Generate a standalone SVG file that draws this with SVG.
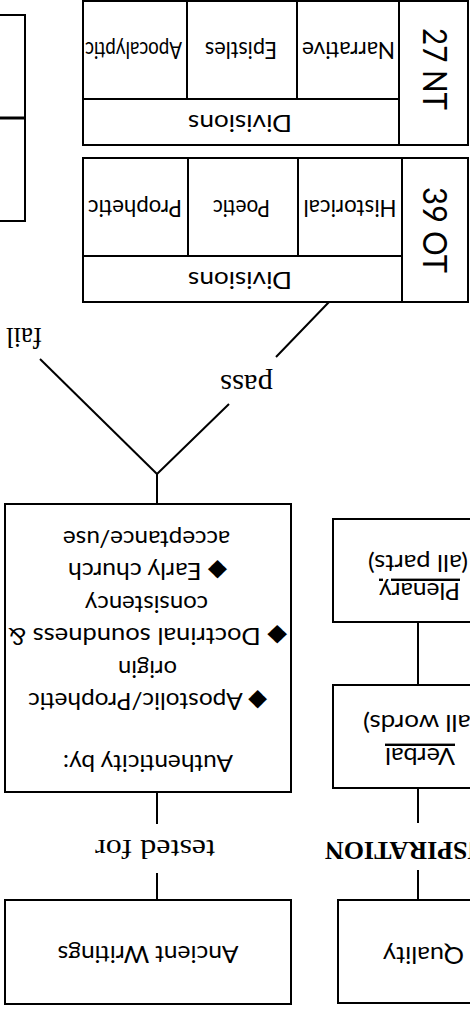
<svg xmlns="http://www.w3.org/2000/svg" width="470" height="1009" viewBox="0 0 470 1009">
<style>
.box{fill:#fff;stroke:#000;stroke-width:2}
.ln{stroke:#000;stroke-width:2;fill:none}
.t,.c,.n{font-family:'Lato','Liberation Sans','DejaVu Sans',sans-serif;fill:#000;text-anchor:middle}
.t{font-size:24px}
.c{font-size:23px}
.n{font-size:33px}
.s{font-family:'Liberation Serif',serif;fill:#000;text-anchor:middle}
.u{text-decoration:underline}
</style>
<rect width="470" height="1009" fill="#fff"/>
<g transform="rotate(180 235 504.5)">
  <g id="connectors">
    <path class="ln" d="M313,109V136M313,185V217"/>
    <text class="s" x="315" y="169" font-size="27" textLength="120" lengthAdjust="spacingAndGlyphs">tested for</text>
    <path class="ln" d="M313,505V535"/>
    <path class="ln" d="M313,535L241,605M194,652L141,707"/>
    <text class="s" x="223.5" y="634" font-size="30" textLength="53" lengthAdjust="spacingAndGlyphs">pass</text>
    <path class="ln" d="M313,535L430,650"/>
    <text class="s" x="446" y="681" font-size="30" textLength="36" lengthAdjust="spacingAndGlyphs">fail</text>
    <path class="ln" d="M52,109V139M52,186V221"/>
    <text class="s" x="145" y="167" font-size="26" font-weight="bold" style="text-anchor:end">INSPIRATION</text>
    <path class="ln" d="M52,324V387"/>
  </g>
  <g id="ancient">
    <rect class="box" x="179" y="5" width="286" height="104"/>
    <text class="t" style="font-family:Lato,sans-serif" x="322" y="63" textLength="181" lengthAdjust="spacingAndGlyphs">Ancient Writings</text>
  </g>
  <g id="authenticity">
    <rect class="box" x="179" y="217" width="286" height="288"/>
    <text class="t" style="font-family:Lato,sans-serif" x="322" y="254" textLength="170" lengthAdjust="spacingAndGlyphs">Authenticity by:</text>
    <text class="t" style="font-family:Lato,'DejaVu Sans',sans-serif" x="322.5" y="316" textLength="239" lengthAdjust="spacingAndGlyphs">◆ Apostolic/Prophetic</text>
    <text class="t" style="font-family:Lato,sans-serif" x="322.5" y="348.5" textLength="59" lengthAdjust="spacingAndGlyphs">origin</text>
    <text class="t" style="font-family:Lato,'DejaVu Sans',sans-serif" x="322.5" y="381" textLength="279" lengthAdjust="spacingAndGlyphs">◆ Doctrinal soundness &amp;</text>
    <text class="t" style="font-family:Lato,sans-serif" x="323.5" y="413.5" textLength="123" lengthAdjust="spacingAndGlyphs">consistency</text>
    <text class="t" style="font-family:Lato,'DejaVu Sans',sans-serif" x="322.5" y="446" textLength="159" lengthAdjust="spacingAndGlyphs">◆ Early church</text>
    <text class="t" style="font-family:Lato,sans-serif" x="323.5" y="478.5" textLength="167" lengthAdjust="spacingAndGlyphs">acceptance/use</text>
  </g>
  <g id="quality">
    <rect class="box" x="-40" y="6" width="172" height="103"/>
    <text class="t" style="font-family:Lato,sans-serif;text-anchor:start" x="6" y="62" textLength="81" lengthAdjust="spacingAndGlyphs">Quality</text>
  </g>
  <g id="verbal">
    <rect class="box" x="-40" y="221" width="177" height="103"/>
    <text class="t u" style="font-family:Lato,sans-serif" x="50" y="261" textLength="70" lengthAdjust="spacingAndGlyphs">Verbal</text>
    <text class="t" style="font-family:Lato,sans-serif" x="50" y="294" textLength="114" lengthAdjust="spacingAndGlyphs">(all words)</text>
  </g>
  <g id="plenary">
    <rect class="box" x="-40" y="387" width="177" height="103"/>
    <text class="t u" style="font-family:Lato,sans-serif" x="50.5" y="426" textLength="81" lengthAdjust="spacingAndGlyphs">Plenary</text>
    <text class="t" style="font-family:Lato,sans-serif" x="52" y="454" textLength="100" lengthAdjust="spacingAndGlyphs">(all parts)</text>
  </g>
  <g id="ot">
    <rect class="box" x="2" y="707" width="385" height="144"/>
    <path class="ln" d="M68,707V851M68,753H387M172,753V851M282,753V851"/>
    <text class="n" style="font-family:Lato,sans-serif" x="47" y="779" transform="rotate(-90 47 779)" textLength="86" lengthAdjust="spacingAndGlyphs">39 OT</text>
    <text class="t" style="font-family:Lato,sans-serif" x="230" y="737" textLength="104" lengthAdjust="spacingAndGlyphs">Divisions</text>
    <text class="c" style="font-family:Lato,sans-serif" x="120" y="809" textLength="93" lengthAdjust="spacingAndGlyphs">Historical</text>
    <text class="c" style="font-family:Lato,sans-serif" x="228.5" y="809" textLength="57" lengthAdjust="spacingAndGlyphs">Poetic</text>
    <text class="c" style="font-family:Lato,sans-serif" x="335" y="809" textLength="94" lengthAdjust="spacingAndGlyphs">Prophetic</text>
  </g>
  <g id="nt">
    <rect class="box" x="2" y="864" width="385" height="144"/>
    <path class="ln" d="M71,864V1008M71,910H387M173,910V1008M283,910V1008"/>
    <text class="n" style="font-family:Lato,sans-serif" x="47" y="940" transform="rotate(-90 47 940)" textLength="82" lengthAdjust="spacingAndGlyphs">27 NT</text>
    <text class="t" style="font-family:Lato,sans-serif" x="230" y="894" textLength="104" lengthAdjust="spacingAndGlyphs">Divisions</text>
    <text class="c" style="font-family:Lato,sans-serif" x="121.5" y="967" textLength="93" lengthAdjust="spacingAndGlyphs">Narrative</text>
    <text class="c" style="font-family:Lato,sans-serif" x="229" y="967" textLength="72" lengthAdjust="spacingAndGlyphs">Epistles</text>
    <text class="c" style="font-family:Lato,sans-serif" x="336.5" y="967" textLength="97" lengthAdjust="spacingAndGlyphs">Apocalyptic</text>
  </g>
  <g id="side">
    <rect class="box" x="445" y="788" width="40" height="103"/>
    <rect class="box" x="445" y="891" width="40" height="103"/>
    <path d="M445,891H470" stroke="#000" stroke-width="3"/>
  </g>
</g>
</svg>
